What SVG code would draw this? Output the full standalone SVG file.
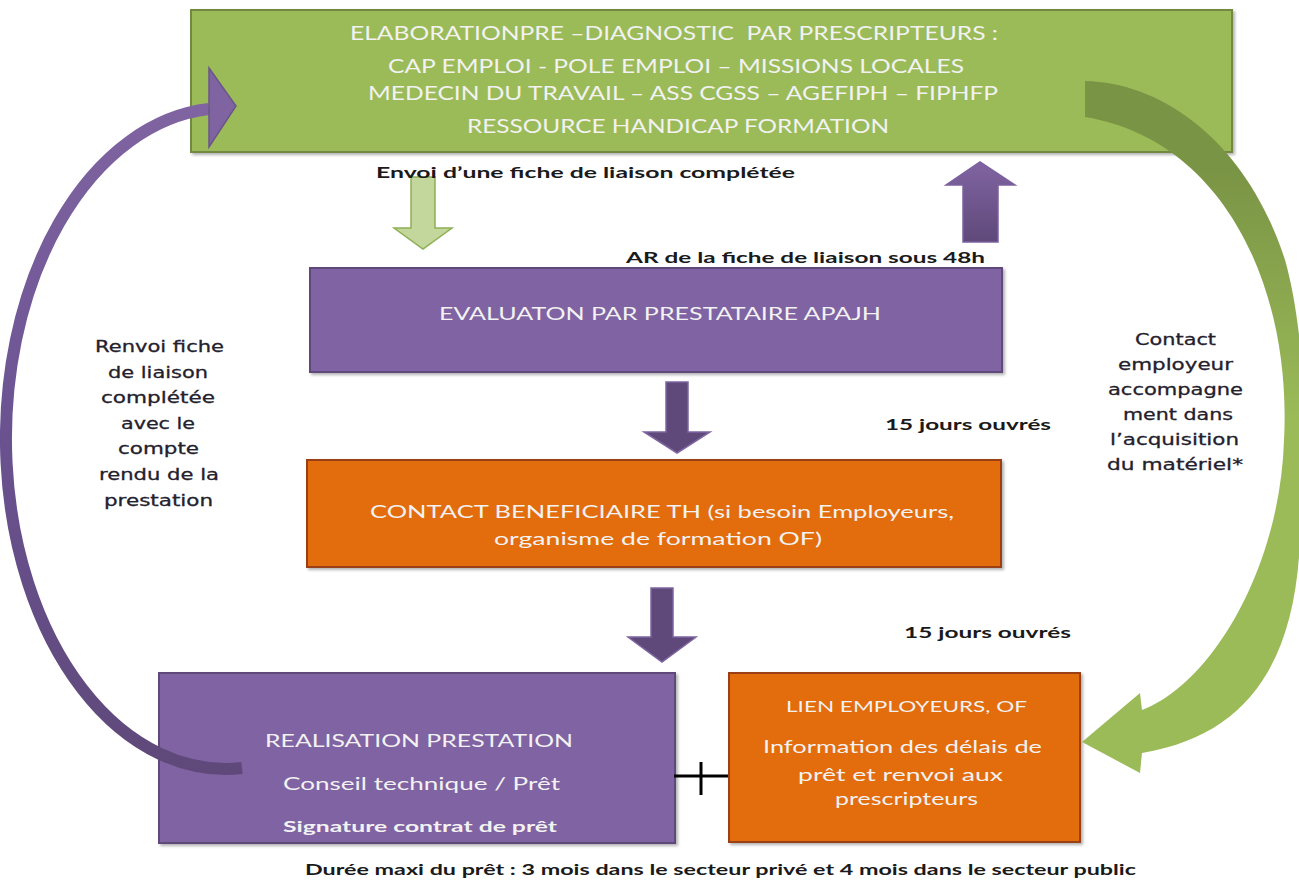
<svg xmlns="http://www.w3.org/2000/svg" width="1299" height="883" viewBox="0 0 1299 883">
<defs>
  <filter id="sh" x="-5%" y="-5%" width="110%" height="115%">
    <feDropShadow dx="2" dy="2" stdDeviation="1.5" flood-color="#000" flood-opacity="0.3"/>
  </filter>
  <linearGradient id="gPurpArc" x1="0" y1="0" x2="0" y2="1">
    <stop offset="0" stop-color="#8064A2"/>
    <stop offset="0.5" stop-color="#6A5290"/>
    <stop offset="1" stop-color="#5F497A"/>
  </linearGradient>
  <linearGradient id="gGreenArc" gradientUnits="userSpaceOnUse" x1="0" y1="170" x2="0" y2="420">
    <stop offset="0" stop-color="#7A9445"/>
    <stop offset="1" stop-color="#9BBB59"/>
  </linearGradient>
  <linearGradient id="gUp" x1="0" y1="0" x2="0" y2="1">
    <stop offset="0" stop-color="#8064A2"/>
    <stop offset="1" stop-color="#5F497A"/>
  </linearGradient>
  <style>
    .green{fill:#9BBB59;stroke:#71893F;stroke-width:2}
    .purple{fill:#8064A2;stroke:#5F497A;stroke-width:2}
    .orange{fill:#E36C09;stroke:#9A3F12;stroke-width:2}
    .bt{font-family:Lato,"Liberation Sans",sans-serif;fill:#F2F2F2;}
    .lbl{font-family:Lato,"Liberation Sans",sans-serif;font-weight:bold;font-size:15px;fill:#1A1A1A;}
    .side{font-family:"DejaVu Sans","Liberation Sans",sans-serif;font-size:16px;fill:#24202C;stroke:#24202C;stroke-width:0.3;}
    .darr{fill:#5F497A;stroke:#7E65A0;stroke-width:1.5}
  </style>
</defs>
<rect width="1299" height="883" fill="#FFFFFF"/>

<g id="node-prescripteurs">
  <rect class="green" x="191" y="10" width="1041" height="142" filter="url(#sh)"/>
  <text class="bt" font-size="20" xml:space="preserve" x="350" y="40" textLength="648" lengthAdjust="spacingAndGlyphs">ELABORATIONPRE –DIAGNOSTIC  PAR PRESCRIPTEURS :</text>
  <text class="bt" font-size="20" x="388" y="73" textLength="576" lengthAdjust="spacingAndGlyphs">CAP EMPLOI - POLE EMPLOI – MISSIONS LOCALES</text>
  <text class="bt" font-size="20" x="368" y="100" textLength="630" lengthAdjust="spacingAndGlyphs">MEDECIN DU TRAVAIL – ASS CGSS – AGEFIPH – FIPHFP</text>
  <text class="bt" font-size="20" x="467" y="133" textLength="422" lengthAdjust="spacingAndGlyphs">RESSOURCE HANDICAP FORMATION</text>
</g>

<g id="node-evaluation">
  <rect class="purple" x="310" y="268" width="692" height="104" filter="url(#sh)"/>
  <text class="bt" font-size="17" x="439" y="320" textLength="442" lengthAdjust="spacingAndGlyphs">EVALUATON PAR PRESTATAIRE APAJH</text>
</g>

<g id="node-contact">
  <rect class="orange" x="307" y="460" width="694" height="107" filter="url(#sh)"/>
  <text class="bt" font-size="17" x="370" y="518" textLength="584" lengthAdjust="spacingAndGlyphs">CONTACT BENEFICIAIRE TH (si besoin Employeurs,</text>
  <text class="bt" font-size="17" x="494" y="545" textLength="328" lengthAdjust="spacingAndGlyphs">organisme de formation OF)</text>
</g>

<g id="node-realisation">
  <rect class="purple" x="159" y="673" width="516" height="170" filter="url(#sh)"/>
  <text class="bt" font-size="18" x="265" y="747" textLength="308" lengthAdjust="spacingAndGlyphs">REALISATION PRESTATION</text>
  <text class="bt" font-size="18" x="283" y="790" textLength="277" lengthAdjust="spacingAndGlyphs">Conseil technique / Prêt</text>
  <text class="bt" font-size="15" font-weight="bold" x="283" y="832" textLength="274" lengthAdjust="spacingAndGlyphs">Signature contrat de prêt</text>
</g>

<g id="node-lien">
  <rect class="orange" x="729" y="673" width="351" height="169" filter="url(#sh)"/>
  <text class="bt" font-size="15" x="786" y="712" textLength="241" lengthAdjust="spacingAndGlyphs">LIEN EMPLOYEURS, OF</text>
  <text class="bt" font-size="17" x="763" y="753" textLength="279" lengthAdjust="spacingAndGlyphs">Information des délais de</text>
  <text class="bt" font-size="17" x="798" y="781" textLength="205" lengthAdjust="spacingAndGlyphs">prêt et renvoi aux</text>
  <text class="bt" font-size="17" x="835" y="805" textLength="143" lengthAdjust="spacingAndGlyphs">prescripteurs</text>
</g>

<g id="connectors">
  <polygon points="411,177 435,177 435,228 452,228 423,249 394,228 411,228" fill="#C3D69B" stroke="#8EB054" stroke-width="1.5"/>
  <polygon points="963,242 963,185 946,185 980,162 1015,185 998,185 998,242" fill="url(#gUp)" stroke="#7B61A0" stroke-width="1.5"/>
  <polygon class="darr" points="666,382 688,382 688,432 710,432 677,453 644,432 666,432"/>
  <polygon class="darr" points="651,588 673,588 673,637 696,637 662,662 628,637 651,637"/>
  <path d="M 242 768 A 218 328 0 0 1 209 109" fill="none" stroke="url(#gPurpArc)" stroke-width="12"/>
  <polygon points="209,68 236,106 209,147" fill="#8064A2" stroke="#6B5589" stroke-width="1.5"/>
  <path d="M1085,81 C1170,83 1250,150 1285,260 C1305,330 1310,450 1300,540 C1295,660 1250,735 1142,753 L1140,773 L1082,742 L1140,693 L1142,710 C1210,685 1280,570 1284,440 C1292,290 1225,140 1085,117 Z" fill="url(#gGreenArc)"/>
  <line x1="674" y1="776" x2="728" y2="776" stroke="#000" stroke-width="3"/>
  <line x1="701" y1="762" x2="701" y2="795" stroke="#000" stroke-width="3"/>
</g>

<g id="labels">
  <text class="lbl" x="376" y="178" textLength="419" lengthAdjust="spacingAndGlyphs">Envoi d’une fiche de liaison complétée</text>
  <text class="lbl" x="626" y="263" textLength="359" lengthAdjust="spacingAndGlyphs">AR de la fiche de liaison sous 48h</text>
  <text class="lbl" x="885" y="430" textLength="166" lengthAdjust="spacingAndGlyphs">15 jours ouvrés</text>
  <text class="lbl" x="904" y="638" textLength="167" lengthAdjust="spacingAndGlyphs">15 jours ouvrés</text>
  <text class="lbl" x="305" y="875" textLength="831" lengthAdjust="spacingAndGlyphs">Durée maxi du prêt : 3 mois dans le secteur privé et 4 mois dans le secteur public</text>

  <text class="side" x="95" y="352" textLength="129" lengthAdjust="spacingAndGlyphs">Renvoi fiche</text>
  <text class="side" x="108" y="378" textLength="100" lengthAdjust="spacingAndGlyphs">de liaison</text>
  <text class="side" x="101" y="403" textLength="114" lengthAdjust="spacingAndGlyphs">complétée</text>
  <text class="side" x="121" y="429" textLength="74" lengthAdjust="spacingAndGlyphs">avec le</text>
  <text class="side" x="118" y="454" textLength="81" lengthAdjust="spacingAndGlyphs">compte</text>
  <text class="side" x="99" y="480" textLength="120" lengthAdjust="spacingAndGlyphs">rendu de la</text>
  <text class="side" x="104" y="506" textLength="109" lengthAdjust="spacingAndGlyphs">prestation</text>

  <text class="side" x="1135" y="345" textLength="81" lengthAdjust="spacingAndGlyphs">Contact</text>
  <text class="side" x="1118" y="370" textLength="115" lengthAdjust="spacingAndGlyphs">employeur</text>
  <text class="side" x="1108" y="395" textLength="135" lengthAdjust="spacingAndGlyphs">accompagne</text>
  <text class="side" x="1123" y="420" textLength="110" lengthAdjust="spacingAndGlyphs">ment dans</text>
  <text class="side" x="1110" y="445" textLength="129" lengthAdjust="spacingAndGlyphs">l’acquisition</text>
  <text class="side" x="1107" y="470" textLength="136" lengthAdjust="spacingAndGlyphs">du matériel*</text>
</g>
</svg>
